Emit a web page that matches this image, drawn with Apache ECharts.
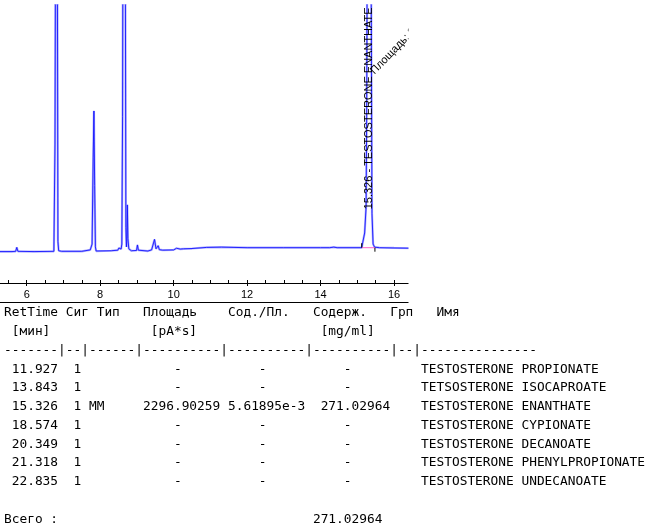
<!DOCTYPE html>
<html><head><meta charset="utf-8">
<script src="https://cdn.jsdelivr.net/npm/echarts@6/dist/echarts.min.js"></script>
<style>html,body{margin:0;padding:0;background:#fff}#c{width:648px;height:529px}</style>
</head><body><div id="c"></div>
<script>
// ---- chromatogram (time in min, signal in pA) ----
const chromTime = [5.27,5.60,5.70,5.73,5.76,6.20,6.74,6.77,6.79,6.81,6.83,6.85,6.87,6.95,7.50,7.73,7.78,7.81,7.83,7.85,7.87,7.89,8.30,8.48,8.51,8.54,8.57,8.59,8.61,8.63,8.66,8.68,8.70,8.715,8.725,8.74,8.755,8.78,8.85,8.99,9.015,9.04,9.30,9.40,9.44,9.48,9.52,9.555,9.58,9.61,9.70,10.00,10.08,10.12,10.18,10.22,10.27,10.50,10.90,11.30,12.00,13.00,14.00,14.25,14.30,14.36,14.45,15.12,15.20,15.24,15.255,15.27,15.30,15.33,15.36,15.38,15.40,15.43,15.47,15.60,16.00,16.50];
const chromSignal = [11.3,11.3,11.4,12.8,11.4,11.3,11.4,50,150,300,150,15,11.6,11.4,11.4,11.9,14,45,61.9,35,13,11.5,11.6,11.8,12.6,12.0,12.2,14,60,200,300,150,20,13,15,28.1,16,12.3,11.6,11.7,13.7,11.8,11.5,11.9,12.0,15.7,12.3,12.3,13.4,12.0,11.8,11.9,12.5,12.0,12.2,12.8,12.3,12.4,12.8,12.9,12.7,12.7,12.7,12.7,13.4,12.9,12.7,12.7,18,27.5,60,120,250,350,250,100,25,14,12.9,12.7,12.6,12.5];
// integration baseline of the labelled peak
const integStart = [15.12, 12.7];
const integEnd = [15.48, 12.7];
const labeledPeakTime = 15.326;
const labeledPeakName = 'TESTOSTERONE ENANTHATE';
const labeledPeakArea = 2296.90259;
const axisTicks = [6, 8, 10, 12, 14, 16];

// ---- report table ----
const tableHeaders = ['RetTime','Сиг','Тип','Площадь','Сод./Пл.','Содерж.','Грп','Имя'];
const tableUnits = ['[мин]','[pA*s]','[mg/ml]'];
const retTimes = [11.927,13.843,15.326,18.574,20.349,21.318,22.835];
const signals = [1,1,1,1,1,1,1];
const peakTypes = ['','','MM','','','',''];
const areas = [null,null,2296.90259,null,null,null,null];
const amtPerArea = [null,null,5.61895e-3,null,null,null,null];
const amounts = [null,null,271.02964,null,null,null,null];
const compoundNames = ['TESTOSTERONE PROPIONATE','TETSOSTERONE ISOCAPROATE','TESTOSTERONE ENANTHATE','TESTOSTERONE CYPIONATE','TESTOSTERONE DECANOATE','TESTOSTERONE PHENYLPROPIONATE','TESTOSTERONE UNDECANOATE'];
const totalLabel = 'Всего :';
const totalAmount = 271.02964;

const chart = echarts.init(document.getElementById('c'));
const XMIN = 4, XMAX = 16.5;
const signalData = chromTime.map((t, i) => [t, chromSignal[i]]);

function lpad(s, n) { s = String(s); while (s.length < n) s = ' ' + s; return s; }
function put(cols) { let s = ''; for (const [c, t] of cols) { while (s.length < c) s += ' '; s += t; } return s; }
const dashCell = '    -';
const lines = [];
lines.push(put([[0,tableHeaders[0]],[8,tableHeaders[1]],[12,tableHeaders[2]],[18,tableHeaders[3]],[29,tableHeaders[4]],[40,tableHeaders[5]],[50,tableHeaders[6]],[56,tableHeaders[7]]]));
lines.push(put([[1,tableUnits[0]],[19,tableUnits[1]],[41,tableUnits[2]]]));
lines.push([7,2,6,10,10,10,2,15].map(n => '-'.repeat(n)).join('|'));
retTimes.forEach((rt, i) => {
  lines.push(put([
    [0, lpad(rt.toFixed(3), 7)],
    [8, lpad(signals[i], 2)],
    [11, peakTypes[i]],
    [18, areas[i] == null ? dashCell : lpad(areas[i].toFixed(5), 10)],
    [29, amtPerArea[i] == null ? dashCell : lpad(amtPerArea[i].toExponential(5), 10)],
    [40, amounts[i] == null ? dashCell : lpad(amounts[i].toFixed(5), 10)],
    [54, compoundNames[i]]
  ]));
});
lines.push('');
lines.push(put([[0,totalLabel],[40,totalAmount.toFixed(5)]]));

const MONO = '12.84px "DejaVu Sans Mono"';
const tableGraphics = lines.map((s, i) => ({
  type: 'text', x: 4, y: 313 + i * 18.75, z: 10, silent: true,
  style: { text: s, font: MONO, fill: '#000', align: 'left', verticalAlign: 'middle' }
}));

const option = {
  animation: false,
  grid: { left: -46.76, right: 235.6, top: 5, bottom: 246, containLabel: false, outerBoundsMode: 'none' },
  xAxis: [
    { type: 'value', min: XMIN, max: XMAX, interval: 0.5, position: 'bottom',
      axisLine: { show: true, lineStyle: { color: '#000', width: 1 } },
      axisTick: { show: true, inside: true, length: 3, lineStyle: { color: '#000' } },
      axisLabel: { show: false }, splitLine: { show: false } },
    { type: 'value', min: XMIN, max: XMAX, interval: 2, position: 'bottom', offset: 0,
      axisLine: { show: false },
      axisTick: { show: true, inside: false, length: 3, lineStyle: { color: '#000' } },
      axisLabel: { show: true, margin: 6, interval: 0, color: '#000', fontSize: 11, fontFamily: 'Liberation Sans',
        formatter: v => axisTicks.indexOf(Math.round(v)) >= 0 && Math.abs(v - Math.round(v)) < 1e-6 ? String(Math.round(v)) : '' },
      splitLine: { show: false } },
    { type: 'value', min: XMIN, max: XMAX, position: 'bottom', offset: 19,
      axisLine: { show: true, lineStyle: { color: '#000', width: 1 } },
      axisTick: { show: false }, axisLabel: { show: false }, splitLine: { show: false } }
  ],
  yAxis: { type: 'value', min: 0, max: 100, show: false, splitLine: { show: false } },
  series: [
    { type: 'line', xAxisIndex: 0, data: signalData, symbol: 'none', clip: true, silent: true,
      lineStyle: { color: 'rgba(110,110,255,0.55)', width: 2.2 }, z: 2 },
    { type: 'line', xAxisIndex: 0, data: signalData, symbol: 'none', clip: true, silent: true,
      lineStyle: { color: '#1414ff', width: 0.9 }, z: 3 },
    { type: 'line', xAxisIndex: 0, data: [integStart, integEnd], symbol: 'none', silent: true,
      lineStyle: { color: '#ff66cc', width: 1 }, z: 4 }
  ],
  graphic: tableGraphics
};
chart.setOption(option);

// annotations anchored to the data via the axes
const pBase = chart.convertToPixel({ gridIndex: 0 }, [labeledPeakTime, integStart[1]]);
const pS = chart.convertToPixel({ gridIndex: 0 }, integStart);
const pE = chart.convertToPixel({ gridIndex: 0 }, integEnd);
const gridRight = chart.convertToPixel({ gridIndex: 0 }, [16.38, 0])[0];
const ann = [
  { type: 'text', x: pBase[0], y: pBase[1] - 38.4, rotation: Math.PI / 2, z: 20, silent: true,
    style: { text: labeledPeakTime.toFixed(3) + ' - ' + labeledPeakName, font: '11px "Liberation Sans"', fill: '#000', align: 'left', verticalAlign: 'middle' } },
  { type: 'text', x: pBase[0] + 3.0, y: pBase[1] - 175.0, rotation: 46 * Math.PI / 180, z: 20, silent: true,
    style: { text: 'Площадь: ' + labeledPeakArea.toFixed(1), font: '11px "Liberation Sans"', fill: '#000', align: 'left', verticalAlign: 'middle' } },
  { type: 'line', z: 21, silent: true, shape: { x1: pS[0], y1: pS[1], x2: pS[0], y2: pS[1] - 4.5 }, style: { stroke: '#000', lineWidth: 1 } },
  { type: 'line', z: 21, silent: true, shape: { x1: pE[0], y1: pE[1], x2: pE[0], y2: pE[1] + 4 }, style: { stroke: '#000', lineWidth: 1 } },
  { type: 'rect', z: 100, silent: true, shape: { x: gridRight + 0.5, y: 0, width: 300, height: 303 }, style: { fill: '#fff' } }
];
chart.setOption({ graphic: tableGraphics.concat(ann) });
</script></body></html>
